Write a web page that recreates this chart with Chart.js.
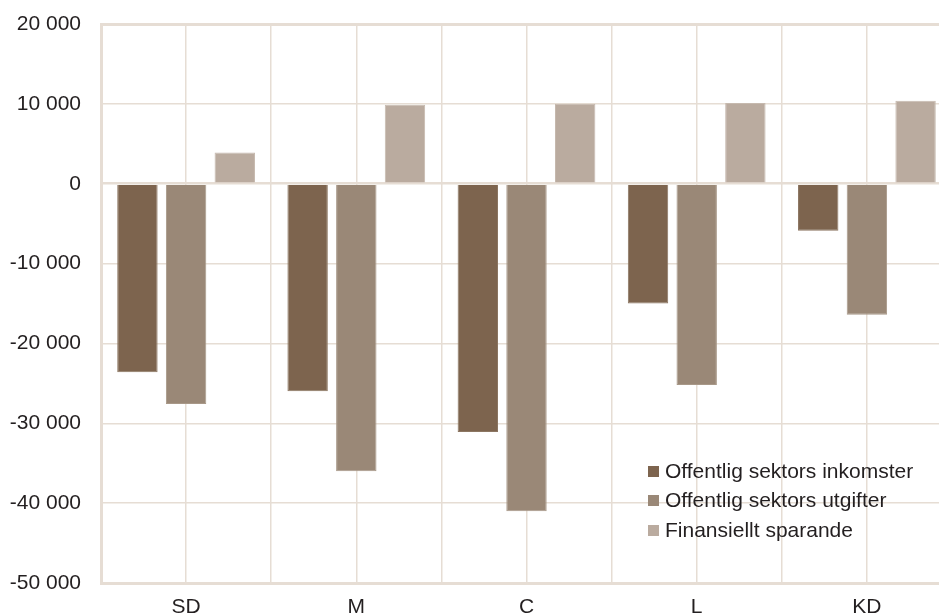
<!DOCTYPE html>
<html>
<head>
<meta charset="utf-8">
<script src="https://cdn.jsdelivr.net/npm/chart.js@4"></script>
<style>
  html, body { margin: 0; padding: 0; background: #fff; overflow: hidden; }
  #wrap { position: relative; width: 939px; height: 615px; overflow: hidden; }
  #legend { position: absolute; left: 648px; top: 456px; font-family: "Liberation Sans", Arial, sans-serif; font-size: 21px; color: #231f20; }
  #legend div { height: 29.5px; display: flex; align-items: center; white-space: nowrap; }
  #legend span.box { display: inline-block; width: 11px; height: 11px; margin-right: 6px; margin-top: 1px; }
</style>
</head>
<body>
<div id="wrap">
  <canvas id="chart" width="960" height="615"></canvas>
  <div id="legend"></div>
</div>
<script>
// Data
const partier = ['SD', 'M', 'C', 'L', 'KD'];
const inkomster = [-23600, -26000, -31100, -15000, -5900];
const utgifter = [-27600, -36000, -41000, -25200, -16400];
const sparande = [3900, 9900, 10000, 10100, 10400];
const yTicks = [20000, 10000, 0, -10000, -20000, -30000, -40000, -50000];

const gridColor = '#e6ddd4';
const fontFamily = '"Liberation Sans", Arial, sans-serif';

const datasets = [
  { label: 'Offentlig sektors inkomster', data: inkomster, backgroundColor: '#7d644e', borderColor: '#8c7662' },
  { label: 'Offentlig sektors utgifter', data: utgifter, backgroundColor: '#9a8877', borderColor: '#a89888' },
  { label: 'Finansiellt sparande', data: sparande, backgroundColor: '#baab9f', borderColor: '#c6b9ae' }
].map(ds => Object.assign(ds, {
  borderWidth: 1,
  categoryPercentage: 0.858,
  barPercentage: 0.83
}));

const ctx = document.getElementById('chart').getContext('2d');

const chart = new Chart(ctx, {
  type: 'bar',
  data: { labels: partier, datasets: datasets },
  options: {
    responsive: false,
    animation: false,
    layout: { padding: { top: 24, right: 8, left: 0, bottom: 0 } },
    plugins: {
      legend: { display: false },
      tooltip: { enabled: false }
    },
    scales: {
      x: {
        position: 'bottom',
        offset: true,
        grid: { offset: true, color: gridColor, lineWidth: 1.5, drawTicks: false },
        border: { display: true, color: gridColor, width: 3 },
        ticks: { color: '#231f20', font: { family: fontFamily, size: 21 }, padding: 12 },
        afterFit: scale => { scale.height = 32; scale.paddingLeft = 0; scale.paddingRight = 0; }
      },
      x2: {
        position: 'bottom',
        offset: true,
        labels: partier,
        grid: { offset: false, color: gridColor, lineWidth: 1.5, drawTicks: false },
        border: { display: false },
        ticks: { display: false },
        afterFit: scale => { scale.height = 0; scale.paddingLeft = 0; scale.paddingRight = 0; }
      },
      y: {
        min: -50000,
        max: 20000,
        afterBuildTicks: scale => { scale.ticks = yTicks.map(v => ({ value: v })); },
        grid: {
          color: gridColor,
          drawTicks: false,
          lineWidth: c => c.tick.value === 20000 ? 3 : (c.tick.value === 0 ? 2.5 : 1.5)
        },
        border: { display: true, color: gridColor, width: 3 },
        ticks: {
          color: '#231f20',
          font: { family: fontFamily, size: 21 },
          padding: 20,
          callback: v => {
            const s = Math.abs(v).toString().replace(/\B(?=(\d{3})+(?!\d))/g, ' ');
            return (v < 0 ? '-' : '') + s;
          }
        },
        afterFit: scale => { scale.width = 101; scale.paddingTop = 0; scale.paddingBottom = 0; }
      }
    }
  }
});

// Legend
const legend = document.getElementById('legend');
datasets.forEach(ds => {
  const row = document.createElement('div');
  const box = document.createElement('span');
  box.className = 'box';
  box.style.background = ds.backgroundColor;
  row.appendChild(box);
  row.appendChild(document.createTextNode(ds.label));
  legend.appendChild(row);
});
</script>
</body>
</html>
